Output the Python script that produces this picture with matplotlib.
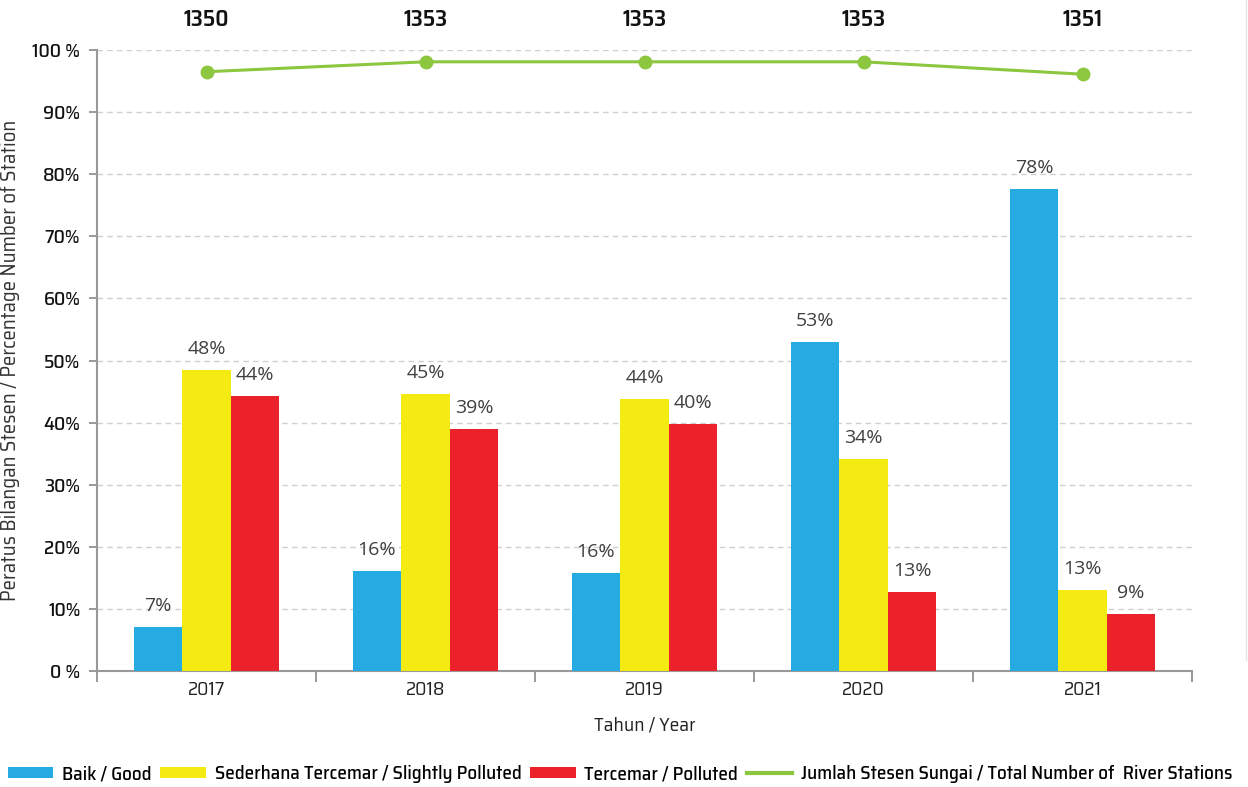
import matplotlib
matplotlib.use("Agg")
import matplotlib.pyplot as plt
from matplotlib import font_manager as fm
from matplotlib.patches import Patch
from matplotlib.lines import Line2D
import numpy as np

years = ["2017", "2018", "2019", "2020", "2021"]
baik = [7.1, 16.1, 15.8, 53.0, 77.6]
sederhana = [48.5, 44.6, 43.8, 34.1, 13.0]
tercemar = [44.3, 39.0, 39.8, 12.7, 9.2]
baik_lbl = ["7%", "16%", "16%", "53%", "78%"]
sed_lbl = ["48%", "45%", "44%", "34%", "13%"]
ter_lbl = ["44%", "39%", "40%", "13%", "9%"]
jumlah_pct = [96.5, 98.1, 98.1, 98.1, 96.1]
jumlah = ["1350", "1353", "1353", "1353", "1351"]
yticks = [0, 10, 20, 30, 40, 50, 60, 70, 80, 90, 100]
ytick_labels = ["0 %", "10%", "20%", "30%", "40%", "50%", "60%", "70%", "80%", "90%", "100 %"]

F_COND = ["Saira SemiCondensed", "Roboto", "DejaVu Sans"]
F_LBL = ["Open Sans", "DejaVu Sans"]

C_BLUE = "#25ABE2"
C_YEL = "#F4EB12"
C_RED = "#EB2229"
C_GREEN = "#8DC63F"

fig = plt.figure(figsize=(12.48, 7.87), dpi=100)
ax = fig.add_axes([97/1248, 1-671/787, (1192-97)/1248, (671-50)/787])

x = np.arange(len(years))
w = 0.222
ax.bar(x - w, baik, w, color=C_BLUE, zorder=3)
ax.bar(x, sederhana, w, color=C_YEL, zorder=3)
ax.bar(x + w, tercemar, w, color=C_RED, zorder=3)
for xs, vals, lbls in [(x - w, baik, baik_lbl), (x, sederhana, sed_lbl), (x + w, tercemar, ter_lbl)]:
    for xi, v, l in zip(xs, vals, lbls):
        ax.text(xi, v + 1.9, l, ha="center", va="bottom", fontsize=14, color="#404040",
                family=F_LBL, zorder=4)

ax.plot(x, jumlah_pct, color=C_GREEN, lw=2.2, marker="o", ms=9, zorder=5, clip_on=False)
for xi, t in zip(x, jumlah):
    ax.text(xi, 103.0, t, ha="center", va="bottom", fontsize=16.5, color="#111111",
            family=F_COND, weight=600)

ax.set_xlim(-0.5, 4.5)
ax.set_ylim(0, 100)
ax.set_yticks(yticks)
ax.set_yticklabels(ytick_labels, fontsize=14, color="#111111", family=F_COND, weight=500)
ax.set_xticks(x)
ax.set_xticklabels(years, fontsize=14, color="#222222", family=F_COND, weight=400)
ax.set_xticks(np.arange(-0.5, 5.0, 1.0), minor=True)
ax.tick_params(axis="x", which="major", length=0, pad=7)
ax.tick_params(axis="x", which="minor", length=8, color="#888888", width=1.2)
ax.tick_params(axis="y", length=6, color="#888888", width=1.2, pad=6)

for yv in yticks[1:]:
    ax.axhline(yv, color="#D0D0D0", lw=1, ls=(0, (4, 3)), zorder=1)

for s in ["top", "right"]:
    ax.spines[s].set_visible(False)
for s in ["left", "bottom"]:
    ax.spines[s].set_color("#999999")
    ax.spines[s].set_linewidth(1.5)

ax.set_ylabel("Peratus Bilangan Stesen / Percentage Number of Station", fontsize=15,
              color="#333333", family=F_COND, weight=400, labelpad=9)
ax.set_xlabel("Tahun / Year", fontsize=14, color="#222222", family=F_COND, weight=400,
              labelpad=13)

handles = [Patch(facecolor=C_BLUE), Patch(facecolor=C_YEL), Patch(facecolor=C_RED),
           Line2D([0], [0], color=C_GREEN, lw=3)]
labels = ["Baik / Good", "Sederhana Tercemar / Slightly Polluted", "Tercemar / Polluted",
          "Jumlah Stesen Sungai / Total Number of  River Stations"]
leg = fig.legend(handles, labels, loc="lower left", bbox_to_anchor=(0.003, 0.0), ncol=4,
                 frameon=False, handlelength=2.4, handleheight=0.55, handletextpad=0.45,
                 columnspacing=0.45, borderaxespad=0.0, borderpad=0.2,
                 prop=fm.FontProperties(family=F_COND, size=13.75, weight=500))

fig.add_artist(Line2D([1246/1248, 1246/1248], [1-660/787, 1.0], transform=fig.transFigure,
                      color="#E6E6E6", lw=1))

fig.savefig("out.png", dpi=100)
